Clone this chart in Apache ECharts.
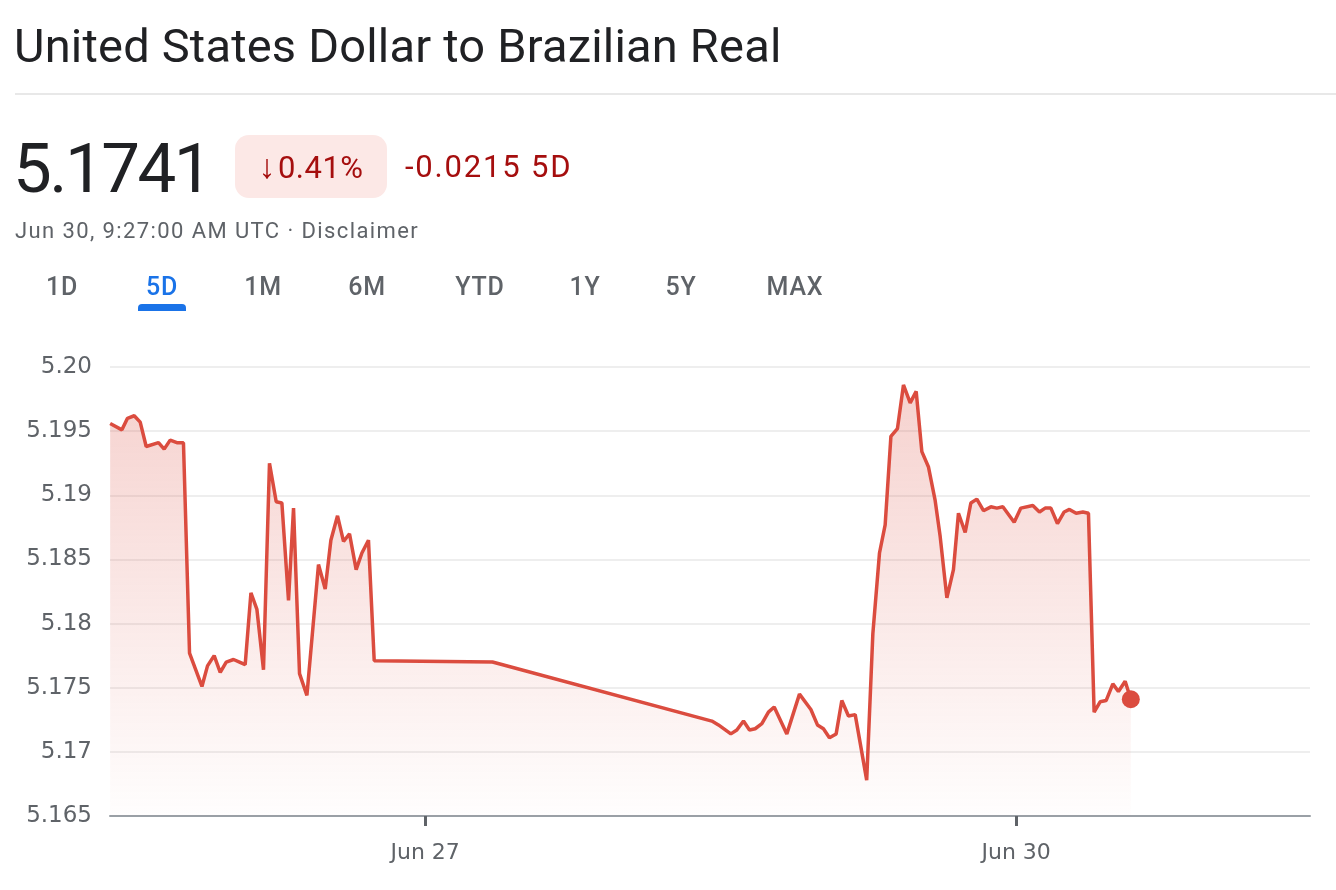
<!DOCTYPE html>
<html>
<head>
<meta charset="utf-8">
<script src="https://cdn.jsdelivr.net/npm/echarts@6/dist/echarts.min.js"></script>
<style>
  html, body { margin: 0; padding: 0; background: #fff; }
  body { width: 1336px; height: 890px; position: relative; overflow: hidden; font-family: Roboto, "Noto Sans", sans-serif; }
  #chart { position: absolute; left: 0; top: 0; width: 1336px; height: 890px; }
  .hdr { position: absolute; white-space: nowrap; z-index: 2; }
  .title { left: 14px; top: 18px; font-size: 47px; color: #202124; letter-spacing: 0.2px; }
  .rule { position: absolute; left: 15px; right: 0; top: 93px; height: 2px; background: #e8e8e8; z-index: 2; }
  .price { left: 13px; top: 128px; font-size: 69px; color: #202124; letter-spacing: -2.5px; }
  .badge { left: 235px; top: 135px; width: 152px; height: 63px; border-radius: 14px; background: #fce8e6; color: #a50e0e; font-size: 31px; line-height: 63px; text-align: center; letter-spacing: 0.5px; }
  .badge span { font-size: 34px; margin-right: 2px; }
  .chg { left: 405px; top: 148px; font-size: 31px; color: #a50e0e; letter-spacing: 1.8px; }
  .sub { left: 15px; top: 218px; font-size: 22px; color: #5f6368; letter-spacing: 1.4px; }
  .tab { top: 272px; font-size: 25px; color: #5f6368; font-weight: 500; letter-spacing: 0.8px; transform: translateX(-50%); }
  .tab.on { color: #1a73e8; }
  .bar { position: absolute; left: 138px; top: 304px; width: 48px; height: 7px; background: #1a73e8; border-radius: 4px 4px 0 0; z-index: 2; }
</style>
</head>
<body>
<div id="chart"></div>
<div class="hdr title">United States Dollar to Brazilian Real</div>
<div class="rule"></div>
<div class="hdr price">5.1741</div>
<div class="hdr badge"><span>↓</span>0.41%</div>
<div class="hdr chg">-0.0215 5D</div>
<div class="hdr sub">Jun 30, 9:27:00 AM UTC · Disclaimer</div>
<div id="tabs"></div>
<div class="bar"></div>
<script>
// 数据：时间（小时，自 6月24日 00:00 起）与汇率
var hours = [
  33.62, 35.05, 35.73, 36.55, 37.28, 38.01, 39.51, 40.20, 40.93, 41.75, 42.55,
  43.29, 44.80, 45.48, 46.29, 47.03, 47.76, 48.65, 49.38, 50.07, 50.77, 51.50,
  52.30, 53.03, 53.85, 54.54, 55.35, 55.96, 56.69, 57.59, 59.00, 59.82, 60.51,
  61.32, 62.05, 62.78, 63.59, 64.29, 65.09, 65.79, 80.20,
  106.93, 107.73, 109.24, 109.97, 110.78, 111.51, 112.20, 113.02, 113.82, 114.52,
  116.06, 117.60, 118.99, 119.79, 120.52, 121.25, 122.07, 122.76, 123.57, 124.39,
  125.79, 126.54, 127.35, 128.04, 128.74, 129.54, 130.27, 131.09, 131.82, 132.51,
  133.32, 134.13, 134.74, 135.56, 136.36, 136.97, 137.79, 138.48, 139.21, 140.02,
  140.92, 141.65, 142.38, 143.76, 144.57, 146.03, 146.84, 147.53, 148.23, 149.03,
  149.85, 150.49, 151.31, 152.13, 152.81, 153.50, 154.23, 154.96, 155.78, 156.46,
  157.28, 157.97
];
var rates = [
  5.1956, 5.1951, 5.1960, 5.1962, 5.1957, 5.1938, 5.1941, 5.1936, 5.1943, 5.1941, 5.1941,
  5.1777, 5.1751, 5.1767, 5.1775, 5.1762, 5.1770, 5.1772, 5.1770, 5.1768, 5.1824, 5.1811,
  5.1764, 5.1925, 5.1895, 5.1894, 5.1818, 5.1890, 5.1761, 5.1744, 5.1846, 5.1827, 5.1865,
  5.1884, 5.1864, 5.1870, 5.1842, 5.1855, 5.1865, 5.1771, 5.1770,
  5.1724, 5.1721, 5.1714, 5.1717, 5.1724, 5.1717, 5.1718, 5.1722, 5.1731, 5.1735,
  5.1714, 5.1745, 5.1733, 5.1721, 5.1718, 5.1711, 5.1714, 5.1740, 5.1728, 5.1729,
  5.1678, 5.1792, 5.1855, 5.1877, 5.1946, 5.1952, 5.1986, 5.1972, 5.1981, 5.1934,
  5.1922, 5.1896, 5.1868, 5.1820, 5.1842, 5.1886, 5.1871, 5.1894, 5.1897, 5.1888,
  5.1891, 5.1890, 5.1891, 5.1879, 5.1890, 5.1892, 5.1887, 5.1890, 5.1890, 5.1878,
  5.1887, 5.1889, 5.1886, 5.1887, 5.1886, 5.1731, 5.1739, 5.1740, 5.1753, 5.1747,
  5.1755, 5.1741
];
var tickHours = [72, 144];
var tickLabels = ["Jun 27", "Jun 30"];
var tabNames = ["1D", "5D", "1M", "6M", "YTD", "1Y", "5Y", "MAX"];
var tabCenters = [62, 162, 263, 367, 480, 585, 681, 795];

// 时间范围按钮
var tabsHtml = "";
for (var t = 0; t < tabNames.length; t++) {
  tabsHtml += '<div class="hdr tab' + (t === 1 ? ' on' : '') + '" style="left:' + tabCenters[t] + 'px">' + tabNames[t] + '</div>';
}
document.getElementById("tabs").innerHTML = tabsHtml;

var lineData = [];
for (var i = 0; i < hours.length; i++) {
  lineData.push([hours[i], rates[i]]);
}
var last = lineData[lineData.length - 1];

var myChart = echarts.init(document.getElementById("chart"));
var red = "#db4c3f";
var axisFont = "DejaVu Sans";
var option = {
  animation: false,
  grid: { left: 110, right: 26, top: 367, bottom: 74 },
  xAxis: {
    type: "value",
    min: 33.6,
    max: 179.8,
    splitLine: { show: false },
    axisLine: { lineStyle: { color: "#9aa0a6", width: 2 } },
    axisTick: { show: true, customValues: tickHours, length: 10, lineStyle: { color: "#5f6368", width: 3 } },
    axisLabel: {
      customValues: tickHours,
      color: "#5f6368",
      fontSize: 22,
      fontFamily: axisFont,
      margin: 26,
      formatter: function (v) {
        var k = tickHours.indexOf(Math.round(v));
        return k >= 0 ? tickLabels[k] : "";
      }
    }
  },
  yAxis: {
    type: "value",
    min: 5.165,
    max: 5.2,
    interval: 0.005,
    axisLine: { show: false },
    axisTick: { show: false },
    splitLine: { lineStyle: { color: "#eeeeee", width: 2 } },
    axisLabel: {
      color: "#5f6368",
      fontSize: 23,
      fontFamily: axisFont,
      margin: 18,
      formatter: function (v) {
        var s = String(+v.toFixed(3));
        if (s.split(".")[1] && s.split(".")[1].length === 1) s += "0";
        return s;
      }
    }
  },
  series: [
    {
      type: "line",
      data: lineData,
      showSymbol: false,
      lineStyle: { color: red, width: 3.5 },
      areaStyle: {
        origin: "start",
        color: new echarts.graphic.LinearGradient(0, 0, 0, 1, [
          { offset: 0, color: "rgba(219,76,63,0.36)" },
          { offset: 1, color: "rgba(219,76,63,0.01)" }
        ])
      }
    },
    {
      type: "scatter",
      data: [last],
      symbolSize: 18,
      itemStyle: { color: red, opacity: 1 },
      z: 5
    }
  ]
};
myChart.setOption(option);
</script>
</body>
</html>
